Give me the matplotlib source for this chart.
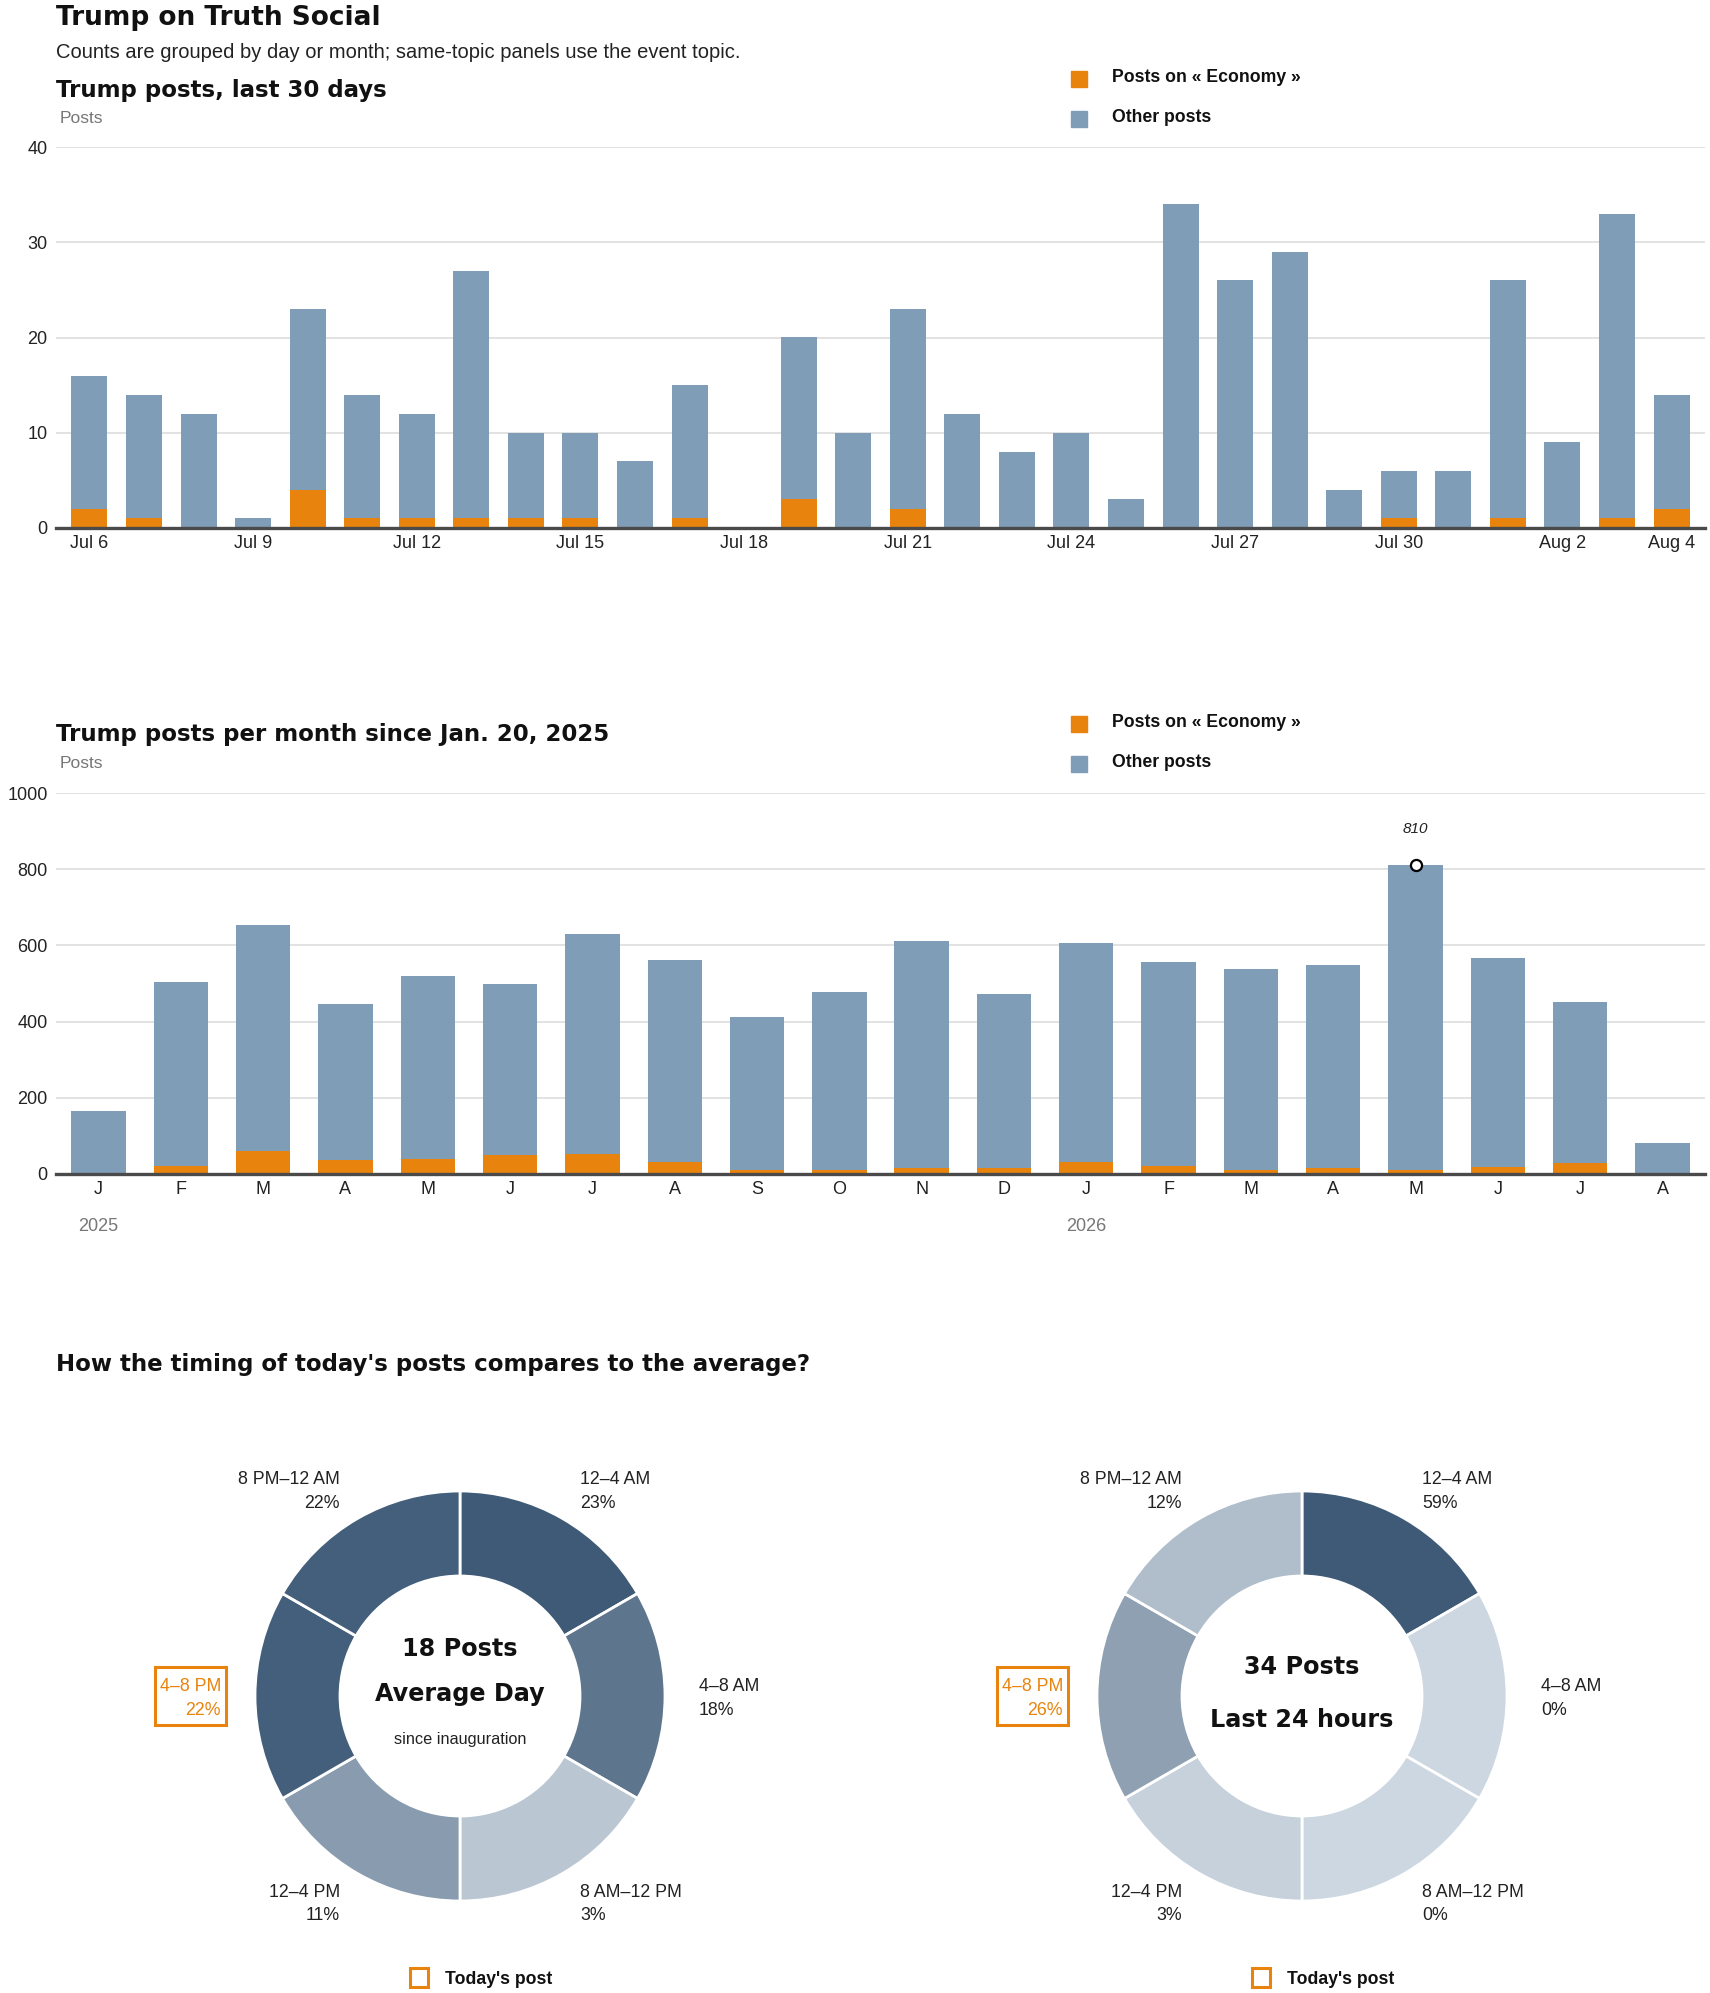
import numpy as np
import pandas as pd
import matplotlib
matplotlib.use("Agg")
import matplotlib.pyplot as plt
from matplotlib.colors import LinearSegmentedColormap
from matplotlib.patches import Rectangle

plt.rcParams['font.family'] = ['Liberation Sans', 'DejaVu Sans']

# ---- data ----
# last 30 days, Jul 6 - Aug 4
days = pd.date_range("2026-07-06", "2026-08-04")
day_total = [16, 14, 12, 1, 23, 14, 12, 27, 10, 10, 7, 15, 0, 20, 10,
             23, 12, 8, 10, 3, 34, 26, 29, 4, 6, 6, 26, 9, 33, 14]
day_econ = [2, 1, 0, 0, 4, 1, 1, 1, 1, 1, 0, 1, 0, 3, 0,
            2, 0, 0, 0, 0, 0, 0, 0, 0, 1, 0, 1, 0, 1, 2]

# months Jan 2025 - Aug 2026
month_initials = ["J", "F", "M", "A", "M", "J", "J", "A", "S", "O", "N", "D",
                  "J", "F", "M", "A", "M", "J", "J", "A"]
month_total = [165, 504, 654, 447, 520, 499, 630, 562, 412, 477, 612, 473,
               607, 556, 538, 549, 810, 568, 451, 82]
month_econ = [1, 20, 60, 37, 39, 51, 53, 32, 10, 10, 17, 17,
              32, 21, 10, 17, 10, 19, 28, 0]
year_labels = {0: "2025", 12: "2026"}

# 4-hour slots, clockwise from midnight
slots = ["12–4 AM", "4–8 AM", "8 AM–12 PM", "12–4 PM", "4–8 PM", "8 PM–12 AM"]
avg_share = [23, 18, 3, 11, 22, 22]
today_share = [59, 0, 0, 3, 26, 12]
avg_posts = 18
today_posts = 34
today_slot = "4–8 PM"

# ---- style ----
ORANGE = "#e8830e"
BLUE = "#809db8"
GRID = "#dddddd"
AXIS = "#4a4a4a"
TEXT = "#222222"
GRAY = "#777777"
LIGHT = "#cdd7e1"
DARK = "#3e5a76"
HEAVY = dict(family="DejaVu Sans", weight="bold", color="#111111")

W, H = 1710, 1993
fig = plt.figure(figsize=(W / 100, H / 100), dpi=100)


def box(left, top, right, bottom):
    return [left / W, 1 - bottom / H, (right - left) / W, (bottom - top) / H]


def put(x, y, s, **kw):
    kw.setdefault("va", "baseline")
    fig.text(x / W, 1 - y / H, s, **kw)


def legend(top):
    for i, (lab, col) in enumerate([("Posts on « Economy »", ORANGE),
                                    ("Other posts", BLUE)]):
        y = top + i * 40
        fig.add_artist(Rectangle((1071 / W, 1 - (y + 16) / H), 16 / W, 16 / H,
                                 color=col, transform=fig.transFigure))
        put(1112, y + 11, lab, fontsize=12.7, weight="bold", color="#111111")


def stacked(rect, total, econ, ymax, step, pad):
    ax = fig.add_axes(rect)
    x = np.arange(len(total))
    econ = np.array(econ)
    other = np.array(total) - econ
    ax.bar(x, econ, width=0.66, color=ORANGE, zorder=2)
    ax.bar(x, other, bottom=econ, width=0.66, color=BLUE, zorder=2)
    ax.set_xlim(-pad, len(total) - 1 + pad)
    ax.set_ylim(0, ymax)
    ax.set_yticks(np.arange(0, ymax + 1, step))
    ax.yaxis.grid(True, color=GRID, lw=1.2)
    ax.set_axisbelow(True)
    for s in ax.spines.values():
        s.set_visible(False)
    ax.axhline(0, color=AXIS, lw=2.4, zorder=3, clip_on=False)
    ax.tick_params(length=0, labelsize=13, colors=TEXT)
    ax.tick_params(axis="y", pad=6)
    ax.tick_params(axis="x", pad=5)
    return ax


# ---- header ----
put(56, 25, "Trump on Truth Social", fontsize=19, **HEAVY)
put(56, 58, "Counts are grouped by day or month; same-topic panels use the event topic.",
    fontsize=14.5, color=TEXT)

# ---- daily panel ----
put(56, 97, "Trump posts, last 30 days", fontsize=16.5, **HEAVY)
put(60, 123, "Posts", fontsize=12.5, color=GRAY)
legend(71)
ax1 = stacked(box(56, 147, 1705, 528), day_total, day_econ, 40, 10, 0.614)
ticks = list(range(0, len(days), 3)) + [len(days) - 1]
ax1.set_xticks(ticks)
ax1.set_xticklabels([f"{days[i]:%b} {days[i].day}" for i in ticks])

# ---- monthly panel ----
put(56, 741, "Trump posts per month since Jan. 20, 2025", fontsize=16.5, **HEAVY)
put(60, 768, "Posts", fontsize=12.5, color=GRAY)
legend(716)
ax2 = stacked(box(56, 793, 1705, 1174), month_total, month_econ, 1000, 200, 0.516)
ax2.set_xticks(range(len(month_initials)))
ax2.set_xticklabels(month_initials)
for i, yr in year_labels.items():
    ax2.annotate(yr, xy=(i, 0), xycoords=("data", "axes fraction"),
                 xytext=(0, -38), textcoords="offset points",
                 ha="center", va="center", fontsize=13, color=GRAY)
peak = int(np.argmax(month_total))
ax2.plot(peak, month_total[peak], "o", ms=8, mfc="white", mec="black", mew=1.6,
         zorder=5, clip_on=False)
ax2.annotate(str(month_total[peak]), xy=(peak, month_total[peak]),
             xytext=(0, 26), textcoords="offset points", ha="center", va="center",
             fontsize=11, style="italic", color=TEXT)

# ---- donuts ----
put(56, 1371, "How the timing of today's posts compares to the average?",
    fontsize=16.5, **HEAVY)

cmap = LinearSegmentedColormap.from_list("slot", [LIGHT, DARK])
# label anchor per slot (radius units): first line x, y, alignment
label_pos = [(0.585, 1.034, "left"), (1.166, 0.022, "left"), (0.585, -0.98, "left"),
             (-0.585, -0.98, "right"), (-1.166, 0.022, "right"), (-0.585, 1.034, "right")]
R = 205
CY = 1696


def donut(cx, shares, center_lines):
    ax = fig.add_axes(box(cx - R, CY - R, cx + R, CY + R))
    colors = [cmap(v / max(shares)) for v in shares]
    ax.pie([1] * len(shares), colors=colors, startangle=90, counterclock=False,
           wedgeprops=dict(width=85 / R, edgecolor="white", linewidth=2))
    ax.set_xlim(-1, 1)
    ax.set_ylim(-1, 1)
    ax.set_aspect("equal")
    for slot, v, (x, y, ha) in zip(slots, shares, label_pos):
        col = ORANGE if slot == today_slot else TEXT
        ax.text(x, y, slot, ha=ha, va="baseline", fontsize=12.8, color=col,
                clip_on=False)
        ax.text(x, y - 0.115, f"{v}%", ha=ha, va="baseline", fontsize=12.8,
                color=col, clip_on=False)
        if slot == today_slot:
            ax.add_patch(Rectangle((x - 0.322 if ha == "right" else x - 0.02, -0.141),
                                   0.347, 0.283, fill=False, edgecolor=ORANGE,
                                   lw=2.2, clip_on=False))
    for s, y, kw in center_lines:
        ax.text(0, y, s, ha="center", va="baseline", clip_on=False, **kw)
    ax.add_patch(Rectangle((-0.244, -1.42), 0.088, 0.093, fill=False,
                           edgecolor=ORANGE, lw=2.2, clip_on=False))
    ax.text(-0.073, -1.405, "Today's post", ha="left", va="baseline",
            fontsize=12.7, weight="bold", color="#111111", clip_on=False)
    return ax


big = dict(fontsize=17.2, **HEAVY)
donut(460, avg_share, [(f"{avg_posts} Posts", 0.195, big),
                       ("Average Day", -0.023, big),
                       ("since inauguration", -0.234, dict(fontsize=11.7, color=TEXT))])
donut(1302, today_share, [(f"{today_posts} Posts", 0.107, big),
                          ("Last 24 hours", -0.151, big)])

fig.savefig("out.png", dpi=100, facecolor="white")
